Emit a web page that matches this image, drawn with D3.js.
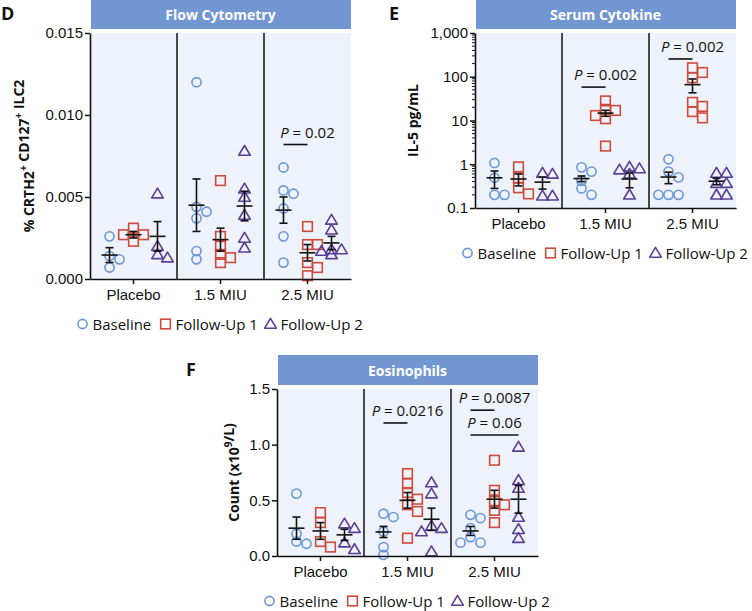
<!DOCTYPE html>
<html>
<head>
<meta charset="utf-8">
<script src="https://cdn.jsdelivr.net/npm/d3@7.9.0/dist/d3.min.js"></script>
<style>
  body { margin: 0; background: #fff; }
  svg { display: block; font-family: "Open Sans", "Noto Sans", sans-serif; }
</style>
</head>
<body>
<svg id="chart" width="752" height="611"></svg>
<script>
const groups = ['Placebo', '1.5 MIU', '2.5 MIU'];
const seriesNames = ['Baseline', 'Follow-Up 1', 'Follow-Up 2'];

// D: flow cytometry, % CRTH2+ CD127+ ILC2 (per group: Placebo, 1.5, 2.5)
const ilc2Baseline = [[0.0026, 0.0014, 0.0012, 0.0007], [0.0120, 0.0044, 0.0041, 0.0037, 0.0017, 0.0012], [0.0068, 0.0054, 0.0052, 0.0043, 0.0026, 0.0010]];
const ilc2Fu1 = [[0.0031, 0.0027, 0.0027, 0.0023], [0.0060, 0.0026, 0.0020, 0.0015, 0.0013, 0.0010], [0.0032, 0.0021, 0.0021, 0.0010, 0.0007, 0.0002]];
const ilc2Fu2 = [[0.0052, 0.0020, 0.0015, 0.0013], [0.0078, 0.0055, 0.0050, 0.0039, 0.0025, 0.0019], [0.0036, 0.0030, 0.0018, 0.0018, 0.0017, 0.0015]];
const ilc2Means = [[0.00146, 0.0045, 0.0042], [0.0027, 0.0024, 0.0016], [0.0026, 0.00445, 0.0022]];
const ilc2Sems = [[0.00045, 0.0016, 0.0008], [0.0002, 0.0007, 0.0005], [0.0009, 0.0009, 0.0004]];
const ilc2Ticks = [0, 0.005, 0.010, 0.015];
const ilc2Tests = [['2.5 MIU', 'Follow-Up 1', '0.02', 0.0082]];

// E: serum IL-5 pg/mL
const il5Baseline = [[1.07, 0.49, 0.2, 0.2], [0.85, 0.68, 0.42, 0.28, 0.2], [1.3, 0.68, 0.5, 0.2, 0.2, 0.2]];
const il5Fu1 = [[0.87, 0.49, 0.29, 0.21], [28, 18, 17, 13, 11, 2.6], [160, 125, 95, 26, 21, 16, 11.5]];
const il5Fu2 = [[0.63, 0.6, 0.19, 0.19], [0.87, 0.8, 0.75, 0.6, 0.2], [0.63, 0.63, 0.37, 0.37, 0.2, 0.2]];
const il5Means = [[0.49, 0.47, 0.51], [0.46, 14.8, 66], [0.39, 0.46, 0.41]];
const il5Sems = [[0.21, 0.07, 0.15], [0.14, 2.3, 23], [0.12, 0.17, 0.07]];
const il5Ticks = [0.1, 1, 10, 100, 1000];
const il5Tests = [['1.5 MIU', 'Follow-Up 1', '0.002', 58], ['2.5 MIU', 'Follow-Up 1', '0.002', 255]];

// F: eosinophil count x10^9/L
const eosBaseline = [[0.56, 0.2, 0.13, 0.11], [0.38, 0.35, 0.22, 0.08, 0.01], [0.37, 0.34, 0.25, 0.17, 0.12, 0.12]];
const eosFu1 = [[0.39, 0.3, 0.13, 0.08], [0.74, 0.65, 0.57, 0.51, 0.46, 0.40, 0.16], [0.86, 0.59, 0.49, 0.46, 0.41, 0.30]];
const eosFu2 = [[0.29, 0.25, 0.12, 0.06], [0.66, 0.56, 0.27, 0.25, 0.22, 0.04], [0.98, 0.68, 0.61, 0.35, 0.24, 0.16]];
const eosMeans = [[0.25, 0.216, 0.225], [0.225, 0.5, 0.51], [0.19, 0.33, 0.51]];
const eosSems = [[0.1, 0.05, 0.04], [0.075, 0.07, 0.08], [0.05, 0.1, 0.125]];
const eosTicks = [0, 0.5, 1.0, 1.5];
const eosTests = [['1.5 MIU', 'Follow-Up 1', '0.0216', 1.195], ['2.5 MIU', 'Follow-Up 1', '0.0087', 1.31], ['2.5 MIU', 'Follow-Up 2', '0.06', 1.087]];

const colors = { 'Baseline': '#6b98da', 'Follow-Up 1': '#cf4a3a', 'Follow-Up 2': '#5b3f95' };
const headerBlue = '#7196d2';
const plotBg = '#eef2fa';

const svg = d3.select('#chart');

function drawMarker(sel, name, cx, cy) {
  let c = colors[name];
  if (name === 'Baseline') {
    sel.append('circle').attr('cx', cx).attr('cy', cy).attr('r', 4.6)
      .attr('fill', 'none').attr('stroke', c).attr('stroke-width', 1.6);
  } else if (name === 'Follow-Up 1') {
    sel.append('rect').attr('x', cx - 4.8).attr('y', cy - 4.8).attr('width', 9.6).attr('height', 9.6)
      .attr('fill', 'none').attr('stroke', c).attr('stroke-width', 1.6);
  } else {
    sel.append('path').attr('d', `M${cx},${cy - 5.6}L${cx + 5.8},${cy + 4.2}L${cx - 5.8},${cy + 4.2}Z`)
      .attr('fill', 'none').attr('stroke', c).attr('stroke-width', 1.6).attr('stroke-linejoin', 'round');
  }
}

// simple dodge so overlapping points spread sideways
function dodge(ys, cx) {
  let placed = [];
  let steps = [0, 1, -1, 2, -2, 3, -3];
  return ys.map(py => {
    let px = cx;
    for (let k of steps) {
      let tryX = cx + k * 5;
      if (placed.every(([qx, qy]) => Math.abs(qx - tryX) >= 7.5 || Math.abs(qy - py) >= 7.5)) {
        px = tryX;
        break;
      }
    }
    placed.push([px, py]);
    return px;
  });
}

function drawPanel(p) {
  let g = svg.append('g');
  let x = d3.scaleBand().domain(groups).range([p.left, p.right]);
  let sub = d3.scalePoint().domain(seriesNames).range([-24, 24]);
  let y = p.scale.range([p.bottom, p.top]);
  let center = (p.left + p.right) / 2;

  // header strip
  g.append('rect').attr('x', p.left + 1).attr('y', p.top - 34)
    .attr('width', p.right - p.left - 1).attr('height', 30).attr('fill', headerBlue);
  g.append('text').attr('x', center).attr('y', p.top - 19)
    .attr('text-anchor', 'middle').attr('dominant-baseline', 'central')
    .attr('fill', '#fff').attr('font-weight', 700).attr('font-size', 14).text(p.title);

  g.append('text').attr('x', p.letterX).attr('y', p.top - 13)
    .attr('font-weight', 700).attr('font-size', 18).attr('fill', '#111').text(p.letter);

  g.append('rect').attr('x', p.left).attr('y', p.top)
    .attr('width', p.right - p.left).attr('height', p.bottom - p.top).attr('fill', plotBg);

  // group dividers
  groups.slice(1).forEach(gr => {
    g.append('line').attr('x1', x(gr)).attr('x2', x(gr)).attr('y1', p.top).attr('y2', p.bottom)
      .attr('stroke', '#111').attr('stroke-width', 1.5);
  });

  // points
  p.values.forEach((series, si) => {
    let name = seriesNames[si];
    series.forEach((vals, gi) => {
      let cx = x(groups[gi]) + x.bandwidth() / 2 + sub(name);
      let ys = vals.map(v => y(v));
      let xs = dodge(ys, cx);
      ys.forEach((py, i) => drawMarker(g, name, xs[i], py));
    });
  });

  // mean and SEM bars
  p.means.forEach((row, si) => {
    row.forEach((m, gi) => {
      let cx = x(groups[gi]) + x.bandwidth() / 2 + sub(seriesNames[si]);
      let s = p.sems[si][gi];
      let yTop = y(m + s), yBot = y(Math.max(m - s, p.scale.domain()[0] * 1.0001));
      let eb = g.append('g').attr('stroke', '#111').attr('stroke-width', 1.6);
      eb.append('line').attr('x1', cx - 8).attr('x2', cx + 8).attr('y1', y(m)).attr('y2', y(m));
      eb.append('line').attr('x1', cx).attr('x2', cx).attr('y1', yTop).attr('y2', yBot);
      eb.append('line').attr('x1', cx - 4).attr('x2', cx + 4).attr('y1', yTop).attr('y2', yTop);
      eb.append('line').attr('x1', cx - 4).attr('x2', cx + 4).attr('y1', yBot).attr('y2', yBot);
    });
  });

  // significance labels
  p.tests.forEach(([gr, to, label, level]) => {
    let base = x(gr) + x.bandwidth() / 2;
    let ly = y(level);
    g.append('line').attr('x1', base + sub('Baseline')).attr('x2', base + sub(to))
      .attr('y1', ly).attr('y2', ly).attr('stroke', '#111').attr('stroke-width', 1.6);
    let t = g.append('text').attr('x', base).attr('y', ly - 7)
      .attr('text-anchor', 'middle').attr('font-size', 15).attr('fill', '#111');
    t.append('tspan').attr('font-style', 'italic').text('P');
    t.append('tspan').text(` = ${label}`);
  });

  // axes
  let yAxis = d3.axisLeft(y).tickValues(p.ticks).tickFormat(p.format).tickSize(5).tickSizeOuter(0);
  let ya = g.append('g').attr('transform', `translate(${p.left},0)`).call(yAxis);
  let xa = g.append('g').attr('transform', `translate(0,${p.bottom})`)
    .call(d3.axisBottom(x).tickSize(5).tickSizeOuter(0));
  [ya, xa].forEach(a => {
    a.select('.domain').attr('stroke', '#111').attr('stroke-width', 1.6);
    a.selectAll('.tick line').attr('stroke', '#111').attr('stroke-width', 1.5);
    a.selectAll('.tick text').attr('font-size', 15).attr('fill', '#111').attr('font-family', null);
  });
  ya.selectAll('.tick text').attr('x', -7);
  xa.selectAll('.tick text').attr('y', 10);

  if (p.minor) {
    p.ticks.slice(0, -1).forEach(d => {
      d3.range(2, 10).forEach(k => {
        g.append('line').attr('x1', p.left - 3).attr('x2', p.left).attr('y1', y(d * k)).attr('y2', y(d * k))
          .attr('stroke', '#111').attr('stroke-width', 1);
      });
    });
  }

  // y title
  let yt = g.append('text').attr('transform', `translate(${p.titleX},${(p.top + p.bottom) / 2}) rotate(-90)`)
    .attr('text-anchor', 'middle').attr('dominant-baseline', 'central')
    .attr('font-weight', 700).attr('font-size', 14).attr('fill', '#111');
  p.yTitle.forEach(([txt, sup]) => {
    if (sup) {
      yt.append('tspan').attr('dy', -5).attr('font-size', 10).text(txt);
      yt.append('tspan').attr('dy', 5).text('');
    } else {
      yt.append('tspan').text(txt);
    }
  });

  // legend
  let ly = p.bottom + 45;
  let offsets = [-138, -55, 50];
  seriesNames.forEach((name, i) => {
    let mx = center + offsets[i];
    drawMarker(g, name, mx, ly);
    g.append('text').attr('x', mx + 10).attr('y', ly).attr('dominant-baseline', 'central')
      .attr('font-size', 15).attr('fill', '#111').text(name);
  });
}

drawPanel({
  letter: 'D', letterX: 1, title: 'Flow Cytometry',
  left: 90, right: 351, top: 33, bottom: 279, titleX: 28,
  scale: d3.scaleLinear().domain([0, 0.015]),
  ticks: ilc2Ticks, format: d3.format('.3f'),
  values: [ilc2Baseline, ilc2Fu1, ilc2Fu2], means: ilc2Means, sems: ilc2Sems, tests: ilc2Tests,
  yTitle: [['% CRTH2', false], ['+', true], [' CD127', false], ['+', true], [' ILC2', false]]
});

drawPanel({
  letter: 'E', letterX: 389, title: 'Serum Cytokine',
  left: 475, right: 736, top: 33, bottom: 208, titleX: 412,
  scale: d3.scaleLog().domain([0.1, 1000]), minor: true,
  ticks: il5Ticks, format: d3.format(','),
  values: [il5Baseline, il5Fu1, il5Fu2], means: il5Means, sems: il5Sems, tests: il5Tests,
  yTitle: [['IL-5 pg/mL', false]]
});

drawPanel({
  letter: 'F', letterX: 186, title: 'Eosinophils',
  left: 277, right: 538, top: 389, bottom: 556, titleX: 233,
  scale: d3.scaleLinear().domain([0, 1.5]),
  ticks: eosTicks, format: d3.format('.1f'),
  values: [eosBaseline, eosFu1, eosFu2], means: eosMeans, sems: eosSems, tests: eosTests,
  yTitle: [['Count (x10', false], ['9', true], ['/L)', false]]
});
</script>
</body>
</html>
